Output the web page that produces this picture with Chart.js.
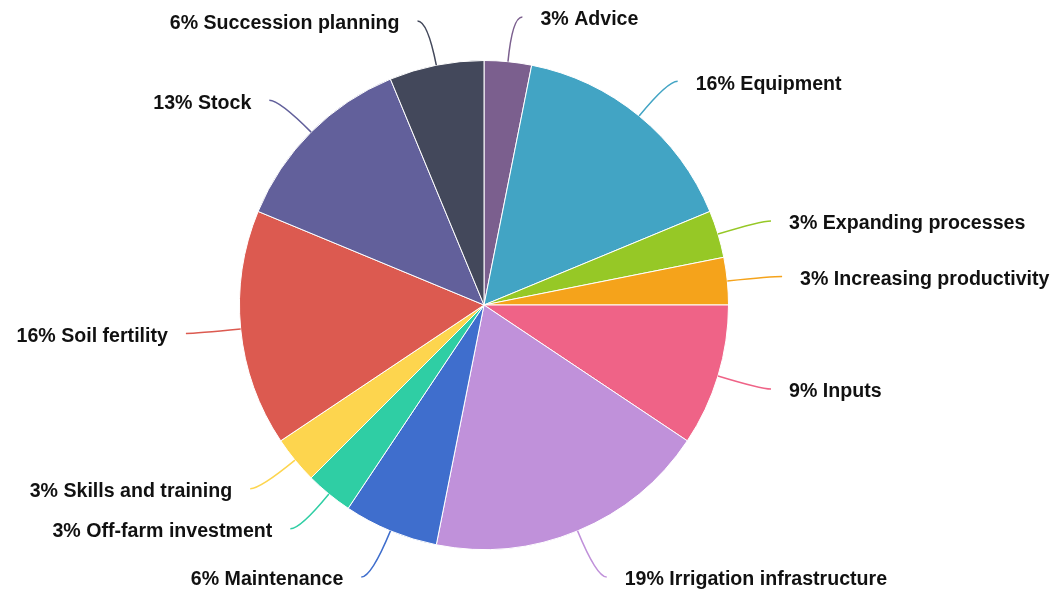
<!DOCTYPE html>
<html>
<head>
<meta charset="utf-8">
<script src="https://cdn.jsdelivr.net/npm/chart.js@4.4.1/dist/chart.umd.min.js"></script>
<style>
    html, body { margin: 0; padding: 0; background: #fff; }
    canvas { display: block; }
</style>
</head>
<body>
<canvas id="fundChart" width="1058" height="597"></canvas>
<script>
// responses per funding area, clockwise from the top
const categories = ["Advice", "Equipment", "Expanding processes", "Increasing productivity", "Inputs",
    "Irrigation infrastructure", "Maintenance", "Off-farm investment", "Skills and training",
    "Soil fertility", "Stock", "Succession planning"];
const responses = [1, 5, 1, 1, 3, 6, 2, 1, 1, 5, 4, 2];
const sliceColors = ["#7b5f8e", "#42a4c4", "#96c826", "#f5a31b", "#ef6387", "#c091da",
    "#3f6ecd", "#2fcea4", "#fdd54e", "#dc5a50", "#62609b", "#43485b"];

const total = responses.reduce((a, b) => a + b, 0);

// outside labels with a curved leader line in the slice colour
const leaderLabels = {
    id: 'leaderLabels',
    afterDatasetsDraw(chart) {
        const ctx = chart.ctx;
        const arcs = chart.getDatasetMeta(0).data;
        ctx.save();
        ctx.font = 'bold 19.6px "Liberation Sans", Arial, sans-serif';
        ctx.textBaseline = 'middle';
        arcs.forEach((arc, i) => {
            const p = arc.getProps(['x', 'y', 'startAngle', 'endAngle', 'outerRadius'], true);
            const mid = (p.startAngle + p.endAngle) / 2;
            const dx = Math.cos(mid), dy = Math.sin(mid);
            const right = dx >= 0;
            // lower labels sit a little further out
            const len = dy > 0.8 ? 50 : 45;
            const x1 = p.x + dx * p.outerRadius, y1 = p.y + dy * p.outerRadius;
            const x2 = p.x + dx * (p.outerRadius + len), y2 = p.y + dy * (p.outerRadius + len);
            const x3 = x2 + (right ? 10 : -10), y3 = y2;

            ctx.strokeStyle = sliceColors[i];
            ctx.lineWidth = 1.5;
            ctx.beginPath();
            ctx.moveTo(x1, y1);
            ctx.quadraticCurveTo(x2, y2, x3, y3);
            ctx.stroke();

            const pct = Math.round(responses[i] / total * 100);
            ctx.fillStyle = '#111';
            ctx.textAlign = right ? 'left' : 'right';
            ctx.fillText(pct + '% ' + categories[i], x3 + (right ? 18 : -18), y3 + 3);
        });
        ctx.restore();
    }
};

new Chart(document.querySelector('#fundChart').getContext('2d'), {
    type: 'pie',
    data: {
        labels: categories,
        datasets: [{
            data: responses,
            backgroundColor: sliceColors,
            borderColor: '#ffffff',
            borderWidth: 1
        }]
    },
    options: {
        responsive: false,
        animation: false,
        layout: {
            padding: { top: 60, bottom: 47, left: 239, right: 329 }
        },
        plugins: {
            legend: { display: false },
            tooltip: { enabled: false }
        }
    },
    plugins: [leaderLabels]
});
</script>
</body>
</html>
